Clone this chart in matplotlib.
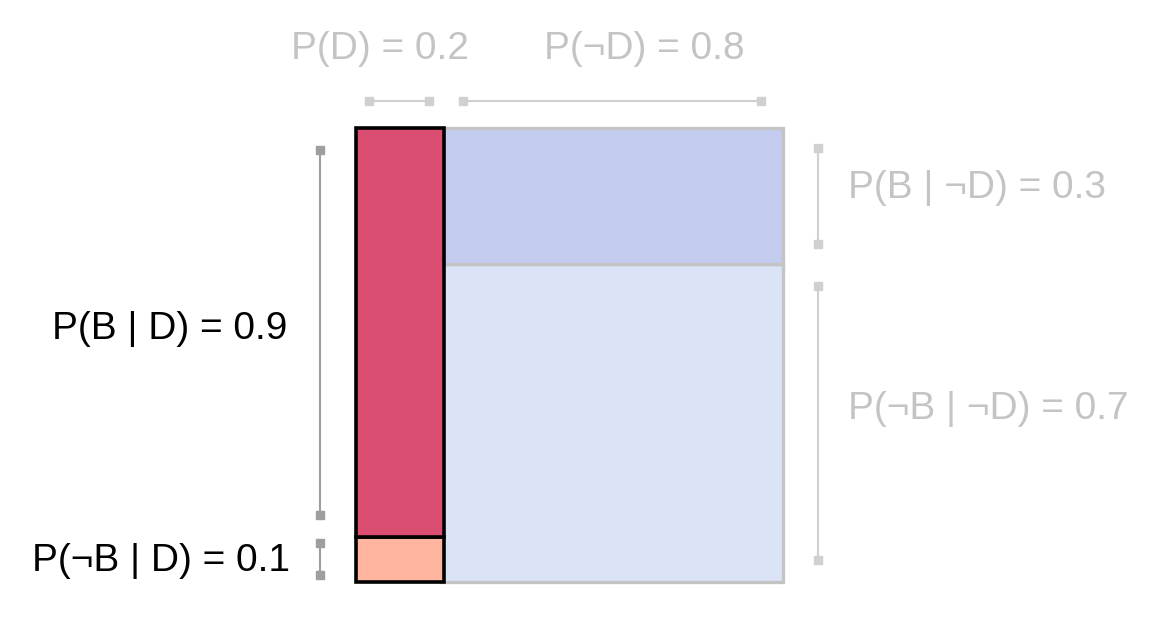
import matplotlib.pyplot as plt
from matplotlib.patches import Rectangle

plt.rcParams['font.family'] = ['Liberation Sans', 'DejaVu Sans']

# probabilities
p_d = 0.2
p_b_given_d = 0.9
p_b_given_not_d = 0.3

col_labels = ["P(D) = 0.2", "P(¬D) = 0.8"]
left_labels = ["P(B | D) = 0.9", "P(¬B | D) = 0.1"]
right_labels = ["P(B | ¬D) = 0.3", "P(¬B | ¬D) = 0.7"]

RED = "#db4e72"
SALMON = "#ffb5a0"
LAVENDER = "#c3cbee"
PALE = "#dbe4f6"
BORDER = "#c4c4c4"
LIGHT = "#d0d0d0"
DARK = "#9e9e9e"
TXT_LIGHT = "#c4c4c4"

W, H = 1163, 623
fig = plt.figure(figsize=(W / 100, H / 100), dpi=100)
ax = fig.add_axes([356 / W, (H - 582) / H, 427 / W, 454 / H])
ax.set_xlim(0, 1)
ax.set_ylim(0, 1)
ax.axis("off")

px_x = 1 / 427  # one pixel in data units
px_y = 1 / 454

# right column (not D)
ax.add_patch(Rectangle((p_d, 0), 1 - p_d, 1 - p_b_given_not_d, fc=PALE, ec=BORDER, lw=2.4, zorder=1, clip_on=False))
ax.add_patch(Rectangle((p_d, 1 - p_b_given_not_d), 1 - p_d, p_b_given_not_d, fc=LAVENDER, ec=BORDER, lw=2.4, zorder=1, clip_on=False))
# left column (D)
d_w = p_d + 3 * px_x
ax.add_patch(Rectangle((0, 0), d_w, 1 - p_b_given_d, fc=SALMON, ec="black", lw=2.6, zorder=2, clip_on=False))
ax.add_patch(Rectangle((0, 1 - p_b_given_d), d_w, p_b_given_d, fc=RED, ec="black", lw=2.6, zorder=2, clip_on=False))


def bracket(a, b, pos, horizontal, color):
    length = b - a
    unit = px_x if horizontal else px_y
    inset = min(22 * unit, 0.15 * length)
    a, b = a + inset, b - inset
    if horizontal:
        xs, ys = [a, b], [pos, pos]
    else:
        xs, ys = [pos, pos], [a, b]
    ax.plot(xs, ys, color=color, lw=1.5, marker="s", ms=5.5, clip_on=False)


# top brackets and labels
top_y = 1 + 27 * px_y
bracket(0, p_d, top_y, True, LIGHT)
bracket(p_d, 1, top_y, True, LIGHT)
ax.text(0.056, 1 + 79 * px_y, col_labels[0], ha="center", va="center", fontsize=28, color=TXT_LIGHT, clip_on=False)
ax.text(0.676, 1 + 79 * px_y, col_labels[1], ha="center", va="center", fontsize=28, color=TXT_LIGHT, clip_on=False)

# left brackets and labels
left_x = -36 * px_x
bracket(1 - p_b_given_d, 1, left_x, False, DARK)
bracket(0, 1 - p_b_given_d, left_x, False, DARK)
ax.text(-69 * px_x, 1 - p_b_given_d / 2 + 3 * px_y, left_labels[0], ha="right", va="center", fontsize=28, color="black")
ax.text(-66 * px_x, (1 - p_b_given_d) / 2 - 2 * px_y, left_labels[1], ha="right", va="center", fontsize=28, color="black")

# right brackets and labels
right_x = 1 + 35 * px_x
bracket(1 - p_b_given_not_d, 1, right_x, False, LIGHT)
bracket(0, 1 - p_b_given_not_d, right_x, False, LIGHT)
ax.text(1 + 65 * px_x, 1 - p_b_given_not_d / 2 + 8 * px_y, right_labels[0], ha="left", va="center", fontsize=28, color=TXT_LIGHT)
ax.text(1 + 65 * px_x, (1 - p_b_given_not_d) / 2 + 14 * px_y, right_labels[1], ha="left", va="center", fontsize=28, color=TXT_LIGHT)

fig.savefig("out.png", dpi=100, facecolor="white")
